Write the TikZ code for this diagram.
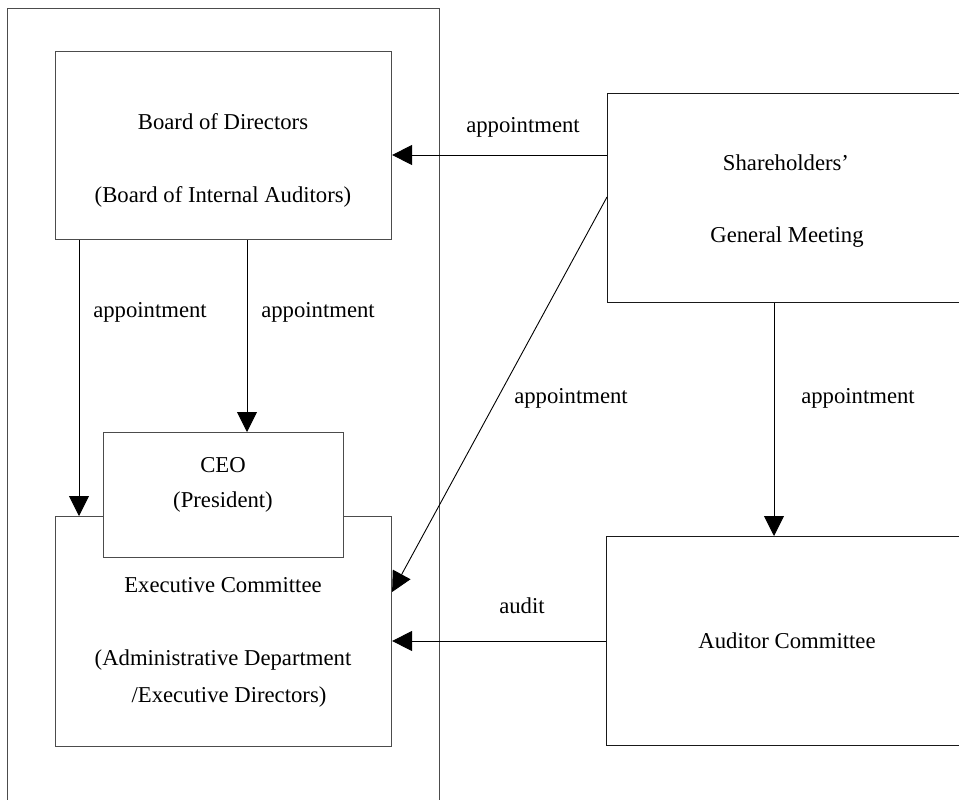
\documentclass[tikz,border=0pt]{standalone}
\usepackage{fontspec}
\setmainfont{Liberation Serif}
\usetikzlibrary{arrows.meta}
\begin{document}
\begin{tikzpicture}[x=1pt,y=-1pt,
  box/.style={draw=black!70, line width=1.1pt, fill=white, inner sep=0pt, anchor=north west},
  darkbox/.style={box, draw=black!90},
  txt/.style={font=\fontsize{22.7}{27}\selectfont, inner sep=0pt, text=black},
  arr/.style={draw=black, line width=0.9pt, -{Triangle[length=20pt,width=20pt]}}]
\useasboundingbox (0,0) rectangle (959,800);
\clip (0,0) rectangle (959,800);
% outer frame
\node[box, minimum width=432pt, minimum height=810pt] (frame) at (7,8) {};
% boxes
\node[box, minimum width=336pt, minimum height=188pt] (board) at (55,51) {};
\node[darkbox, minimum width=362pt, minimum height=209pt] (share) at (607,93) {};
\node[box, minimum width=336pt, minimum height=230pt] (exec) at (55,516) {};
\node[box, minimum width=240pt, minimum height=125pt] (ceo) at (103,432) {};
\node[darkbox, minimum width=362pt, minimum height=209pt] (audit) at (606,536) {};
% texts
\node[txt] (t1) at (223,122) {Board of Directors};
\node[txt] (t2) at (223,197) {(Board of Internal Auditors)};
\node[txt] (t3) at (786,163) {Shareholders’};
\node[txt] (t4) at (787,237) {General Meeting};
\node[txt] (t5) at (223,465) {CEO};
\node[txt] (t6) at (223,502) {(President)};
\node[txt] (t7) at (223,585) {Executive Committee};
\node[txt] (t8) at (223,660) {(Administrative Department};
\node[txt] (t9) at (229,697) {/Executive Directors)};
\node[txt] (t10) at (787,641) {Auditor Committee};
% connectors
\draw[arr] (share.west |- 0,155) -- (board.east |- 0,155);
\draw[arr] (share.west |- 0,197) -- (exec.east |- 0,592);
\draw[arr] (board.south -| 79,0) -- (exec.north -| 79,0);
\draw[arr] (board.south -| 247,0) -- (ceo.north -| 247,0);
\draw[arr] (share.south -| 774,0) -- (audit.north -| 774,0);
\draw[arr] (audit.west |- 0,641) -- (exec.east |- 0,641);
% connector labels
\node[txt] (l1) at (523,127) {appointment};
\node[txt] (l2) at (150,312) {appointment};
\node[txt] (l3) at (318,312) {appointment};
\node[txt] (l4) at (571,398) {appointment};
\node[txt] (l5) at (858,398) {appointment};
\node[txt] (l6) at (522,606) {audit};
\end{tikzpicture}
\end{document}
